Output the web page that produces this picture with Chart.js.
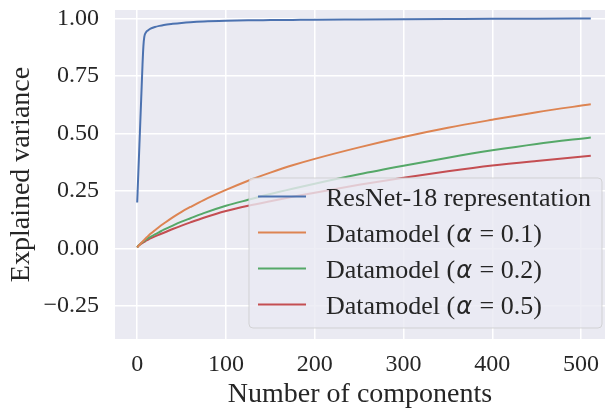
<!DOCTYPE html>
<html>
<head>
<meta charset="utf-8">
<script src="https://cdn.jsdelivr.net/npm/chart.js@4"></script>
<style>
  html, body { margin: 0; padding: 0; background: #ffffff; }
  #wrap { width: 605px; height: 409px; }
</style>
</head>
<body>
<div id="wrap"><canvas id="pcaChart" width="605" height="409"></canvas></div>
<script>
// 1. Data
const components = [0, 1, 2, 3, 4, 5, 6, 7, 8, 10, 12, 15, 20, 25, 30, 40, 50, 60, 75, 100,
                    125, 150, 175, 200, 250, 300, 350, 400, 450, 511];

const resnetVals = [0.2, 0.3, 0.4, 0.5, 0.6, 0.7, 0.8, 0.88, 0.92, 0.94, 0.948, 0.956, 0.963, 0.968, 0.972, 0.977, 0.981, 0.984, 0.987, 0.99,
                    0.992, 0.993, 0.994, 0.995, 0.996, 0.997, 0.998, 0.999, 0.999, 1.0];
const dm01Vals = [0.005, 0.01, 0.014, 0.018, 0.022, 0.026, 0.03, 0.034, 0.038, 0.046, 0.053, 0.064, 0.08, 0.095, 0.109, 0.136, 0.16, 0.181, 0.211, 0.255,
                  0.295, 0.33, 0.362, 0.39, 0.44, 0.485, 0.525, 0.56, 0.593, 0.627];
const dm02Vals = [0.005, 0.011, 0.015, 0.018, 0.022, 0.025, 0.028, 0.031, 0.034, 0.039, 0.044, 0.051, 0.062, 0.072, 0.082, 0.1, 0.117, 0.132, 0.154, 0.186,
                  0.212, 0.237, 0.26, 0.282, 0.323, 0.36, 0.395, 0.427, 0.455, 0.483];
const dm05Vals = [0.005, 0.011, 0.014, 0.017, 0.02, 0.022, 0.025, 0.027, 0.029, 0.034, 0.038, 0.044, 0.053, 0.061, 0.069, 0.085, 0.1, 0.114, 0.134, 0.163,
                  0.186, 0.206, 0.225, 0.243, 0.277, 0.308, 0.336, 0.361, 0.381, 0.403];

const seriesLabels = ['ResNet-18 representation', 'Datamodel (\u03b1 = 0.1)', 'Datamodel (\u03b1 = 0.2)', 'Datamodel (\u03b1 = 0.5)'];
const seriesColors = ['#4C72B0', '#DD8452', '#55A868', '#C44E52'];

const FONT = "'Liberation Serif', 'Times New Roman', serif";
const TEXT = '#262626';

// 2. Plot background (seaborn darkgrid look)
const bgPlugin = {
    id: 'bgPlugin',
    beforeDraw(chart) {
        const { ctx, chartArea: a } = chart;
        ctx.save();
        ctx.fillStyle = '#ffffff';
        ctx.fillRect(0, 0, chart.width, chart.height);
        ctx.fillStyle = '#EAEAF2';
        ctx.fillRect(a.left, a.top, a.right - a.left, a.bottom - a.top);
        ctx.restore();
    }
};

// 3. Legend drawn inside the plot, lower right (alpha in italic like mathtext)
const legendPlugin = {
    id: 'boxLegend',
    afterDatasetsDraw(chart) {
        const { ctx, chartArea: a } = chart;
        const w = 353, h = 150;
        const x0 = a.right - 3 - w;
        const y0 = a.bottom - 11 - h;
        ctx.save();
        ctx.beginPath();
        ctx.roundRect(x0, y0, w, h, 4);
        ctx.fillStyle = 'rgba(234,234,242,0.8)';
        ctx.fill();
        ctx.lineWidth = 1;
        ctx.strokeStyle = 'rgba(204,204,204,0.8)';
        ctx.stroke();

        ctx.textBaseline = 'alphabetic';
        ctx.textAlign = 'left';
        chart.data.datasets.forEach((ds, i) => {
            const ly = y0 + 18.5 + i * 36;
            ctx.beginPath();
            ctx.moveTo(x0 + 9, ly);
            ctx.lineTo(x0 + 57, ly);
            ctx.strokeStyle = ds.borderColor;
            ctx.lineWidth = 2;
            ctx.stroke();

            ctx.fillStyle = TEXT;
            let tx = x0 + 77;
            const parts = ds.label.split('\u03b1');
            parts.forEach((p, k) => {
                ctx.font = '26px ' + FONT;
                ctx.fillText(p, tx, ly + 9);
                tx += ctx.measureText(p).width;
                if (k < parts.length - 1) {
                    ctx.font = "italic 24px 'DejaVu Sans', sans-serif";
                    ctx.fillText('\u03b1', tx + 1, ly + 9);
                    tx += ctx.measureText('\u03b1').width + 2;
                }
            });
        });
        ctx.restore();
    }
};

// 4. Build chart
const ctx = document.getElementById('pcaChart');
const allVals = [resnetVals, dm01Vals, dm02Vals, dm05Vals];

new Chart(ctx, {
    type: 'line',
    data: {
        datasets: allVals.map((vals, i) => ({
            label: seriesLabels[i],
            data: components.map((c, j) => ({ x: c, y: vals[j] })),
            borderColor: seriesColors[i],
            borderWidth: 2,
            pointRadius: 0,
            cubicInterpolationMode: 'monotone',
            fill: false
        }))
    },
    options: {
        responsive: false,
        animation: false,
        layout: { padding: { top: 10, left: 0, right: 0, bottom: 0 } },
        plugins: {
            legend: { display: false },
            tooltip: { enabled: false }
        },
        scales: {
            x: {
                type: 'linear',
                min: -25,
                max: 527,
                afterFit: (s) => { s.height = 70; s.paddingLeft = 0; s.paddingRight = 0; },
                ticks: {
                    stepSize: 100,
                    includeBounds: false,
                    padding: 11,
                    color: TEXT,
                    font: { family: FONT, size: 24 }
                },
                grid: { color: '#ffffff', lineWidth: 1.5, drawTicks: false },
                border: { display: false },
                title: {
                    display: true,
                    text: 'Number of components',
                    color: TEXT,
                    font: { family: FONT, size: 28, lineHeight: 1 },
                    padding: { top: 0, bottom: 0 }
                }
            },
            y: {
                min: -0.393,
                max: 1.037,
                afterFit: (s) => { s.width = 115; s.paddingTop = 0; s.paddingBottom = 0; },
                ticks: {
                    stepSize: 0.25,
                    includeBounds: false,
                    padding: 16,
                    color: TEXT,
                    font: { family: FONT, size: 24 },
                    callback: (v) => (v < 0 ? '\u2212' + Math.abs(v).toFixed(2) : v.toFixed(2))
                },
                grid: { color: '#ffffff', lineWidth: 1.5, drawTicks: false },
                border: { display: false },
                title: {
                    display: true,
                    text: 'Explained variance',
                    color: TEXT,
                    font: { family: FONT, size: 28, lineHeight: 1 },
                    padding: { top: 8, bottom: 0 }
                }
            }
        }
    },
    plugins: [bgPlugin, legendPlugin]
});
</script>
</body>
</html>
